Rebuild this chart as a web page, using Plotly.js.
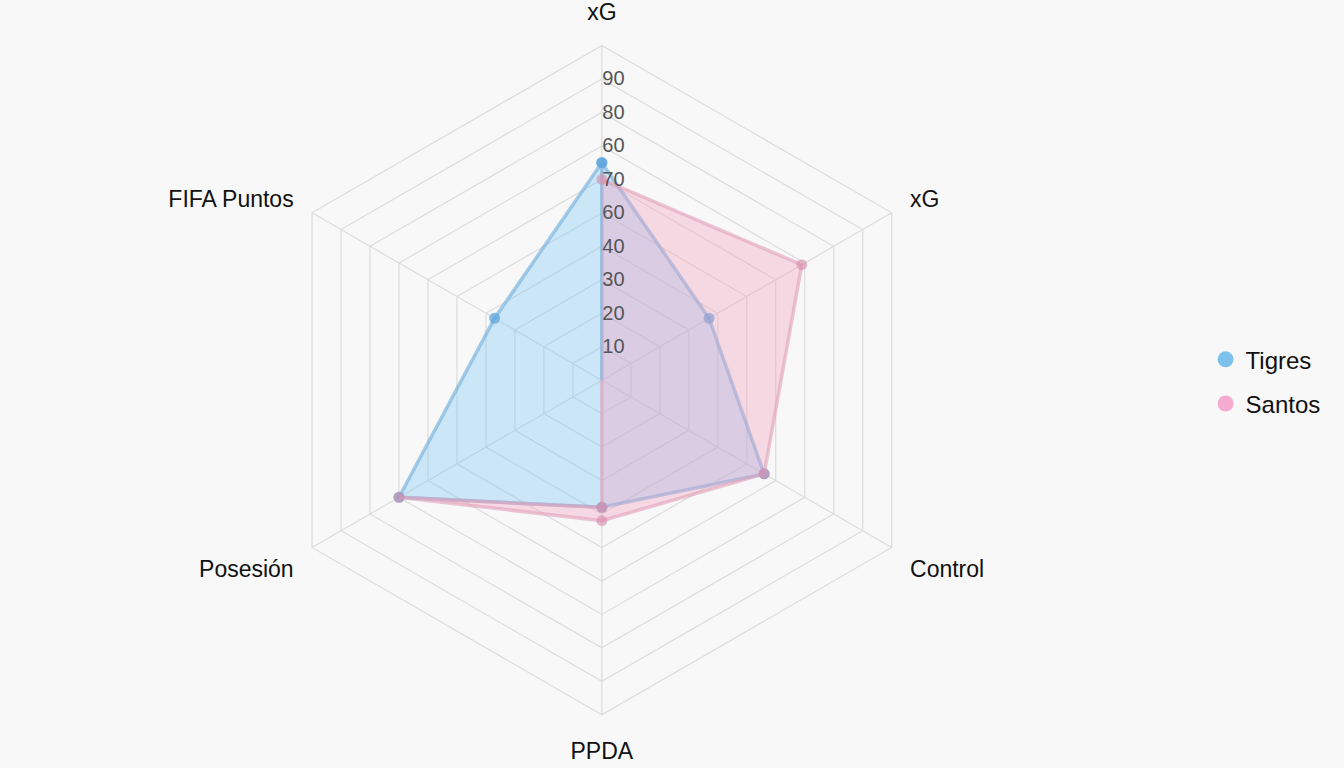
<!DOCTYPE html>
<html>
<head>
<meta charset="utf-8">
<script src="https://cdn.plot.ly/plotly-3.0.1.min.js"></script>
<style>
  html, body { margin: 0; padding: 0; background: #f8f8f8; }
  #chart { width: 1344px; height: 768px; }
</style>
</head>
<body>
<div id="chart"></div>
<script>
// Axis categories (clockwise from top); the two "xG" spokes are kept distinct
const categories = ['xG', 'xG ', 'Control', 'PPDA', 'Posesión', 'FIFA Puntos'];

// Tigres path (ends back at the top spoke and down to the centre)
const tigresTheta = ['xG', 'xG ', 'Control', 'PPDA', 'Posesión', 'FIFA Puntos', 'xG', 'xG'];
const tigresValues = [65, 37, 56, 38, 70, 37, 65, 0];

// Santos path
const santosTheta = ['xG', 'xG ', 'Control', 'PPDA', 'Posesión', 'PPDA', 'xG'];
const santosValues = [60, 69, 56, 42, 70, 38, 0];

// Radial tick labels as printed on the chart
const radialTickVals = [10, 20, 30, 40, 50, 60, 70, 80, 90];
const radialTickText = ['10', '20', '30', '40', '60', '70', '60', '80', '90'];

const seriesNames = ['Tigres', 'Santos'];

const traces = [
  {
    type: 'scatterpolar', name: seriesNames[0], showlegend: false,
    r: tigresValues, theta: tigresTheta,
    mode: 'lines+markers', fill: 'toself',
    fillcolor: 'rgba(128,200,245,0.38)',
    line: { color: 'rgba(110,172,218,0.6)', width: 3.5 },
    marker: { color: 'rgba(95,165,220,0.75)', size: 11 },
    hoverinfo: 'skip'
  },
  {
    type: 'scatterpolar', name: seriesNames[1], showlegend: false,
    r: santosValues, theta: santosTheta,
    mode: 'lines+markers', fill: 'toself',
    fillcolor: 'rgba(244,160,190,0.36)',
    line: { color: 'rgba(225,160,185,0.6)', width: 3.5 },
    marker: { color: 'rgba(215,140,170,0.6)', size: 11 },
    hoverinfo: 'skip'
  },
  {
    type: 'scatterpolar', name: seriesNames[0], r: [null], theta: [null],
    mode: 'markers', marker: { color: '#7cc2ec', size: 20 }, showlegend: true,
    legendgroup: 'g1'
  },
  {
    type: 'scatterpolar', name: seriesNames[1], r: [null], theta: [null],
    mode: 'markers', marker: { color: '#f5abd0', size: 20 }, showlegend: true,
    legendgroup: 'g2'
  }
];

const layout = {
  width: 1344, height: 768,
  paper_bgcolor: '#f8f8f8',
  plot_bgcolor: '#f8f8f8',
  margin: { l: 0, r: 0, t: 0, b: 0 },
  font: { family: 'Liberation Sans, Arial, sans-serif', color: '#111' },
  showlegend: true,
  legend: {
    x: 0.897, y: 0.503, xanchor: 'left', yanchor: 'middle',
    font: { size: 24, color: '#111' },
    bgcolor: 'rgba(0,0,0,0)',
    itemsizing: 'trace',
    traceorder: 'grouped',
    tracegroupgap: 10
  },
  polar: {
    domain: { x: [0.1988, 0.6968], y: [0.069, 0.941] },
    bgcolor: 'rgba(0,0,0,0)',
    gridshape: 'linear',
    radialaxis: {
      range: [0, 100],
      angle: 90,
      tickangle: 90,
      tickvals: radialTickVals,
      ticktext: radialTickText,
      tickfont: { size: 20, color: '#555' },
      showline: false,
      gridcolor: '#dcdcdc',
      gridwidth: 1.2,
      ticks: ''
    },
    angularaxis: {
      type: 'category',
      categoryorder: 'array',
      categoryarray: categories,
      direction: 'clockwise',
      rotation: 90,
      tickfont: { size: 23, color: '#111' },
      showline: true,
      linecolor: '#dcdcdc',
      linewidth: 1.2,
      gridcolor: '#dcdcdc',
      gridwidth: 1.2,
      ticks: 'outside',
      ticklen: 16,
      tickcolor: 'rgba(0,0,0,0)'
    }
  }
};

Plotly.newPlot('chart', traces, layout, { displayModeBar: false, staticPlot: true });
</script>
</body>
</html>
